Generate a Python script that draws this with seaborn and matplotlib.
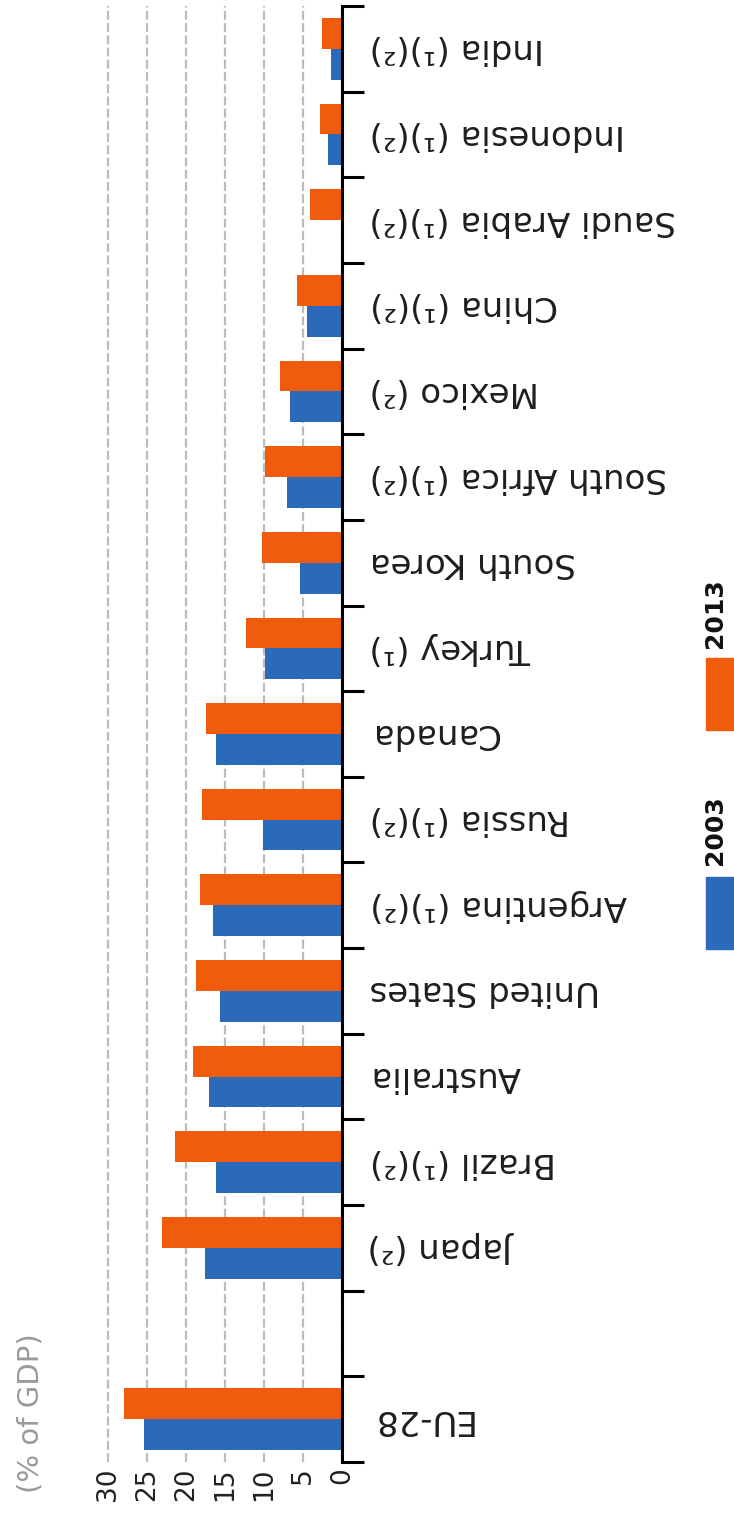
"""Rotated grouped bar chart: values in % of GDP, 2003 vs 2013."""
import numpy as np
import pandas as pd
import matplotlib
matplotlib.use("Agg")
import matplotlib.pyplot as plt
import matplotlib.patches as mpatches
from matplotlib.ticker import FixedLocator
import seaborn as sns

sns.set_style("white")
plt.rcParams["font.family"] = ["DejaVu Sans"]

# ── data ──────────────────────────────────────────────────────────────────────
COUNTRIES = ["EU-28", "Japan (²)", "Brazil (¹)(²)", "Australia", "United States",
             "Argentina (¹)(²)", "Russia (¹)(²)", "Canada", "Turkey (¹)",
             "South Korea", "South Africa (¹)(²)", "Mexico (²)", "China (¹)(²)",
             "Saudi Arabia (¹)(²)", "Indonesia (¹)(²)", "India (¹)(²)"]
Y2003 = [25.4, 17.6, 16.2, 17.0, 15.6, 16.5, 10.1, 16.2, 9.9,
         5.4, 7.0, 6.7, 4.5, np.nan, 1.8, 1.4]
Y2013 = [27.9, 23.1, 21.4, 19.1, 18.7, 18.2, 18.0, 17.4, 12.3,
         10.3, 9.9, 7.9, 5.8, 4.1, 2.8, 2.6]
YEARS = ["2003", "2013"]
VALUE_TICKS = [0, 5, 10, 15, 20, 25, 30]
UNIT_LABEL = "(% of GDP)"

COLORS = {"2003": "#2a6ab8", "2013": "#f05c0c"}
GAP = " "

df = pd.DataFrame({
    "country": COUNTRIES * 2,
    "year": [YEARS[0]] * len(COUNTRIES) + [YEARS[1]] * len(COUNTRIES),
    "value": Y2003 + Y2013,
}).dropna()

# top-to-bottom order, with an empty slot between Japan and EU-28
order = COUNTRIES[::-1]
order = order[:-1] + [GAP] + order[-1:]

# ── plot ──────────────────────────────────────────────────────────────────────
W, H = 734, 1517
fig = plt.figure(figsize=(W / 100, H / 100), dpi=100)
ax = fig.add_axes([104 / W, 55 / H, 238 / W, 1456 / H])

sns.barplot(data=df, x="value", y="country", hue="year", order=order,
            hue_order=["2013", "2003"], palette=COLORS, width=0.72,
            orient="h", errorbar=None, legend=False, saturation=1,
            linewidth=0, ax=ax)

ax.set_xlim(30.5, 0)
ax.set_ylim(len(order) - 0.5, -0.5)
ax.set_xlabel("")
ax.set_ylabel("")

ax.xaxis.set_major_locator(FixedLocator(VALUE_TICKS))
ax.grid(axis="x", color="#bcbcbc", linestyle=(0, (4, 1.5)), linewidth=1.6)
ax.grid(axis="y", visible=False)
ax.set_axisbelow(True)

for side in ["left", "top", "bottom"]:
    ax.spines[side].set_visible(False)
ax.spines["right"].set_visible(True)
ax.spines["right"].set_color("black")
ax.spines["right"].set_linewidth(2.2)

ax.yaxis.set_minor_locator(FixedLocator(np.arange(len(order) + 1) - 0.5))
ax.tick_params(axis="y", which="both", left=False, right=True,
               labelleft=False, labelright=True)
ax.tick_params(axis="y", which="minor", length=16, width=2.2, color="black")
ax.tick_params(axis="y", which="major", length=0, pad=20,
               labelsize=24.5, labelcolor="#1e1e1e")
for lab in ax.get_yticklabels():
    lab.set_rotation(180)
    lab.set_ha("left")
    lab.set_va("center")

ax.tick_params(axis="x", which="both", bottom=True, length=0, pad=4,
               labelsize=19, labelcolor="#222222", labelrotation=90)

# legend (rotated, drawn by hand)
for year, y0, yc in [("2013", 730, 613), ("2003", 949, 830)]:
    fig.patches.append(mpatches.Rectangle((706 / W, 1 - y0 / H), 30 / W, 72 / H,
                                          transform=fig.transFigure,
                                          color=COLORS[year]))
    fig.text(715 / W, 1 - yc / H, year, rotation=90, ha="center", va="center",
             fontweight="bold", fontsize=18, color="#111111")

fig.text(31 / W, 1 - 1413 / H, UNIT_LABEL, rotation=90, ha="center",
         va="center", fontsize=21, color="#9a9a9a")

fig.savefig("out.png", dpi=100)
